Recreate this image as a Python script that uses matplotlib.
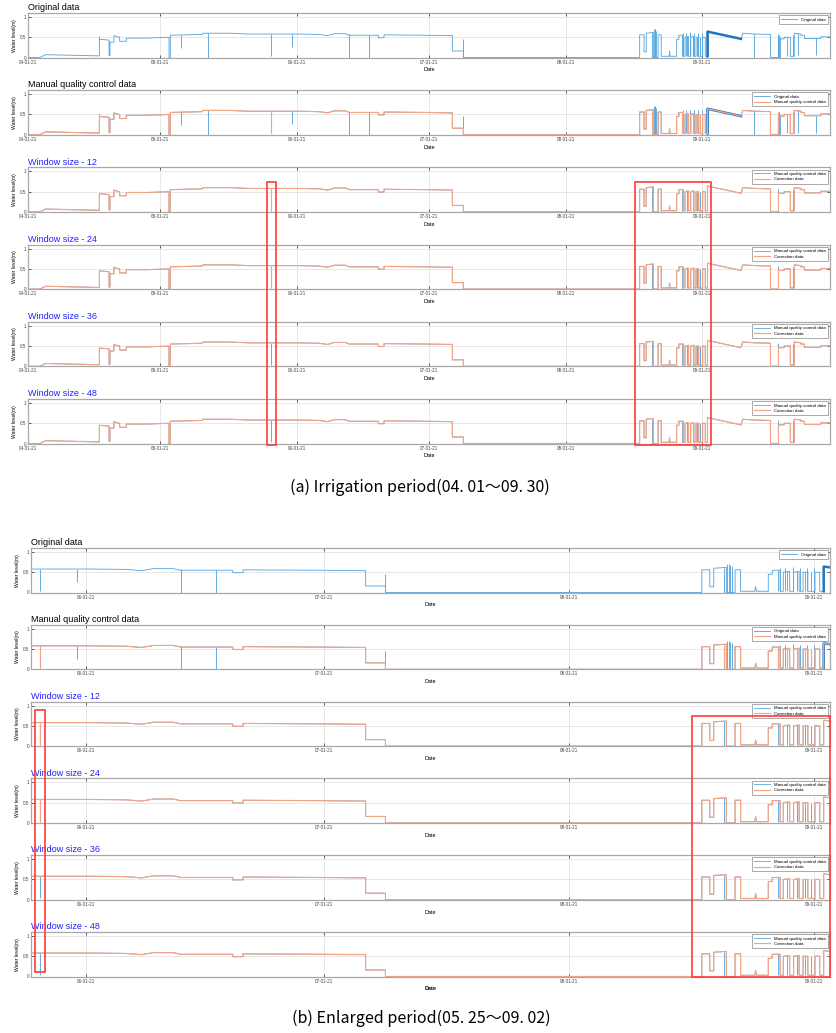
import numpy as np
import pandas as pd
import matplotlib
matplotlib.use('Agg')
import matplotlib.pyplot as plt
import matplotlib.dates as mdates
from matplotlib.patches import Rectangle

plt.rcParams['font.family'] = ['Liberation Sans', 'DejaVu Sans']

start = pd.Timestamp('2021-04-01')

# manual quality control series (days since 04-01-21, water level in m)
qc_day = [0, 2.7, 4.0, 10.0, 16.2, 16.2, 18.4, 18.4, 18.6, 18.6, 19.5, 19.5, 20.6,
          20.8, 20.8, 22.3, 22.3, 27.0, 32.0, 32.0, 32.3, 32.3, 39.5, 39.7, 46.0,
          50.0, 61.5, 66.0, 68.0, 69.5, 72.0, 72.9, 79.5, 79.5, 80.8, 80.8, 90.0,
          96.3, 96.3, 98.8, 98.8, 138.8, 138.8, 139.8, 139.8, 140.3, 140.3, 141.9,
          141.9, 143.0, 143.0, 143.7, 143.7, 145.5, 145.6, 145.7, 147.2, 147.2,
          147.7, 147.7, 148.7, 148.7, 149.1, 149.1, 149.9, 149.9, 150.4, 150.4,
          151.1, 151.1, 151.6, 151.6, 152.2, 152.2, 153.1, 153.1, 153.7, 153.7,
          154.2, 154.2, 161.8, 162.2, 165.0, 168.5, 168.5, 170.3, 170.3, 171.6,
          171.6, 173.0, 173.0, 173.9, 173.9, 175.4, 175.4, 176.2, 176.2, 179.9,
          179.9, 182.0]
qc_val = [0, 0, 0.07, 0.055, 0.04, 0.45, 0.43, 0.05, 0.05, 0.38, 0.38, 0.54, 0.50,
          0.50, 0.40, 0.40, 0.48, 0.48, 0.50, 0.0, 0.0, 0.55, 0.57, 0.60, 0.60,
          0.58, 0.58, 0.57, 0.54, 0.59, 0.59, 0.55, 0.55, 0.49, 0.49, 0.56, 0.55,
          0.54, 0.16, 0.16, 0.0, 0.0, 0.56, 0.56, 0.14, 0.14, 0.60, 0.62,
          0.0, 0.0, 0.56, 0.56, 0.03, 0.03, 0.15, 0.03, 0.03, 0.45,
          0.45, 0.55, 0.55, 0.03, 0.03, 0.50, 0.52, 0.03, 0.03, 0.50,
          0.52, 0.03, 0.03, 0.50, 0.50, 0.03, 0.03, 0.50, 0.50, 0.03,
          0.03, 0.64, 0.46, 0.60, 0.58, 0.57, 0.0, 0.0, 0.46, 0.46,
          0.50, 0.50, 0.03, 0.03, 0.60, 0.58, 0.55, 0.55, 0.47, 0.47,
          0.51, 0.51]

# spikes that only exist in the raw record
orig_spike_day = [16.2, 34.8, 40.8, 59.8, 72.9, 77.4, 98.8, 142.0, 142.2, 142.4,
                  142.6, 148.7, 149.3, 150.3, 151.2, 152.1, 153.0, 154.3, 164.7,
                  170.4, 170.6, 172.3, 174.7, 178.8]
orig_spike_lo = [0.45, 0.23, 0.0, 0.26, 0.0, 0.0, 0.0, 0.0, 0.0, 0.0,
                 0.0, 0.03, 0.03, 0.03, 0.03, 0.03, 0.03, 0.03, 0.0,
                 0.0, 0.0, 0.03, 0.05, 0.05]
orig_spike_hi = [0.52, 0.55, 0.60, 0.58, 0.57, 0.55, 0.45, 0.70, 0.70, 0.68,
                 0.66, 0.60, 0.60, 0.62, 0.60, 0.60, 0.60, 0.60, 0.58,
                 0.55, 0.50, 0.50, 0.60, 0.47]

# spikes kept in manual QC data, dropped or kept by the correction
qc_spike_day = [55.2, 141.6, 148.4, 149.6, 150.8, 151.8, 152.6, 170.1, 173.6]
qc_spike_lo = [0.03, 0.0, 0.03, 0.03, 0.03, 0.03, 0.03, 0.0, 0.03]
qc_spike_hi = [0.58, 0.61, 0.55, 0.52, 0.52, 0.50, 0.50, 0.57, 0.55]
window_sizes = [12, 24, 36, 48]
keep_12 = [1, 0, 0, 0, 0, 0, 0, 0, 0]
keep_24 = [1, 0, 0, 0, 0, 0, 0, 0, 0]
keep_36 = [0, 0, 0, 0, 0, 0, 0, 0, 0]
keep_48 = [0, 0, 0, 0, 0, 0, 0, 0, 0]
keeps = [keep_12, keep_24, keep_36, keep_48]

# noisy stretch in the raw record (early September)
noisy_from, noisy_to = 154.2, 161.8

blue = '#5aa8de'
dark_blue = '#1f77c0'
orange = '#f4a484'
red = '#ff3a3a'


def days(d):
    return start + pd.to_timedelta(np.asarray(d, dtype=float), unit='D')


qc_t = days(qc_day)
qc_v = np.array(qc_val)


def style(ax, xlim, last=False):
    ax.set_xlim(days(xlim[0]), days(xlim[1]))
    ax.set_ylim(0, 1.1)
    ax.set_yticks([0, 0.5, 1])
    ax.set_yticklabels(['0', '0.5', '1'])
    ax.xaxis.set_major_locator(mdates.MonthLocator())
    ax.xaxis.set_major_formatter(mdates.DateFormatter('%m-%d-%y'))
    ax.tick_params(direction='in', length=2.5, width=0.6, colors='#444444',
                   top=True, right=True, labelsize=3.3, pad=1.5)
    ax.grid(True, color='#dddddd', lw=0.5)
    for s in ax.spines.values():
        s.set_color('#a8a8a8')
        s.set_linewidth(0.9)
    ax.set_ylabel('Water level(m)', fontsize=3.6, labelpad=1.5)
    ax.set_xlabel('Date', fontsize=4, labelpad=2,
                  fontweight='bold' if last else 'normal')


def draw_orig(ax, heavy=True):
    ax.plot(qc_t, qc_v, color=blue, lw=0.65, label='Original data')
    ax.vlines(days(orig_spike_day), orig_spike_lo, orig_spike_hi, color=blue, lw=0.65)
    ax.vlines(days(qc_spike_day), qc_spike_lo, qc_spike_hi, color=blue, lw=0.65)
    if heavy:
        m = (np.array(qc_day) >= noisy_from) & (np.array(qc_day) <= noisy_to)
        ax.plot(qc_t[m], qc_v[m], color=dark_blue, lw=1.8)


def legend(ax):
    lg = ax.legend(loc='upper right', fontsize=3.2, handlelength=3.6,
                   borderpad=0.5, labelspacing=0.3, fancybox=False,
                   framealpha=1, borderaxespad=0.5)
    lg.get_frame().set_edgecolor('#888888')
    lg.get_frame().set_linewidth(0.5)


def red_box(fig, ax_top, ax_bot, d0, d1, v_top, v_bot):
    inv = fig.transFigure.inverted()
    x0, y1 = inv.transform(ax_top.transData.transform((mdates.date2num(days(d0)), v_top)))
    x1, y0 = inv.transform(ax_bot.transData.transform((mdates.date2num(days(d1)), v_bot)))
    fig.add_artist(Rectangle((x0, y0), x1 - x0, y1 - y0, transform=fig.transFigure,
                             fill=False, ec=red, lw=1.2, zorder=10))


W, H = 837, 1033
fig = plt.figure(figsize=(W / 100, H / 100), dpi=100)


def panel_group(left_px, top_px, step_px, xlim, last_bold):
    axes = []
    for i in range(6):
        top = top_px + step_px * i
        ax = fig.add_axes([left_px / W, 1 - (top + 44.5) / H, (830 - left_px) / W, 44.5 / H])
        if i == 0:
            draw_orig(ax)
            ax.set_title('Original data', loc='left', fontsize=6.5, pad=2)
        elif i == 1:
            draw_orig(ax)
            ax.plot(qc_t, qc_v, color=orange, lw=0.85, label='Manual quality control data')
            ax.vlines(days(qc_spike_day), qc_spike_lo, qc_spike_hi, color=orange, lw=0.85)
            ax.set_title('Manual quality control data', loc='left', fontsize=6.5, pad=2)
        else:
            ws = window_sizes[i - 2]
            keep = np.array(keeps[i - 2], dtype=bool)
            ax.plot(qc_t, qc_v, color=blue, lw=0.6, label='Manual quality control data')
            ax.vlines(days(qc_spike_day), qc_spike_lo, qc_spike_hi, color=blue, lw=0.65)
            ax.plot(qc_t, qc_v, color=orange, lw=0.85, label='Correction data')
            if keep.any():
                ax.vlines(days(np.array(qc_spike_day)[keep]), np.array(qc_spike_lo)[keep],
                          np.array(qc_spike_hi)[keep], color=orange, lw=0.85)
            ax.set_title(f'Window size - {ws}', loc='left', fontsize=6.5, pad=2,
                         color='#2020ff')
        style(ax, xlim, last=(last_bold and i == 5))
        legend(ax)
        axes.append(ax)
    return axes


axa = panel_group(28, 13, 77.2, (0, 182), False)
axb = panel_group(31, 548, 76.8, (54, 155), True)

red_box(fig, axa[2], axa[5], 54.3, 56.3, 0.74, -0.03)
red_box(fig, axa[2], axa[5], 137.8, 155.0, 0.74, -0.03)
red_box(fig, axb[2], axb[5], 54.5, 55.8, 0.89, 0.10)
red_box(fig, axb[2], axb[5], 137.5, 155.0, 0.74, -0.02)

cap_font = ['Noto Sans CJK KR', 'DejaVu Sans']
fig.text(0.502, 1 - 487 / H, '(a) Irrigation period(04. 01～09. 30)', ha='center',
         va='center', fontsize=11.5, family=cap_font)
fig.text(0.503, 1 - 1018 / H, '(b) Enlarged period(05. 25～09. 02)', ha='center',
         va='center', fontsize=11.5, family=cap_font)

fig.savefig('out.png', dpi=100)
